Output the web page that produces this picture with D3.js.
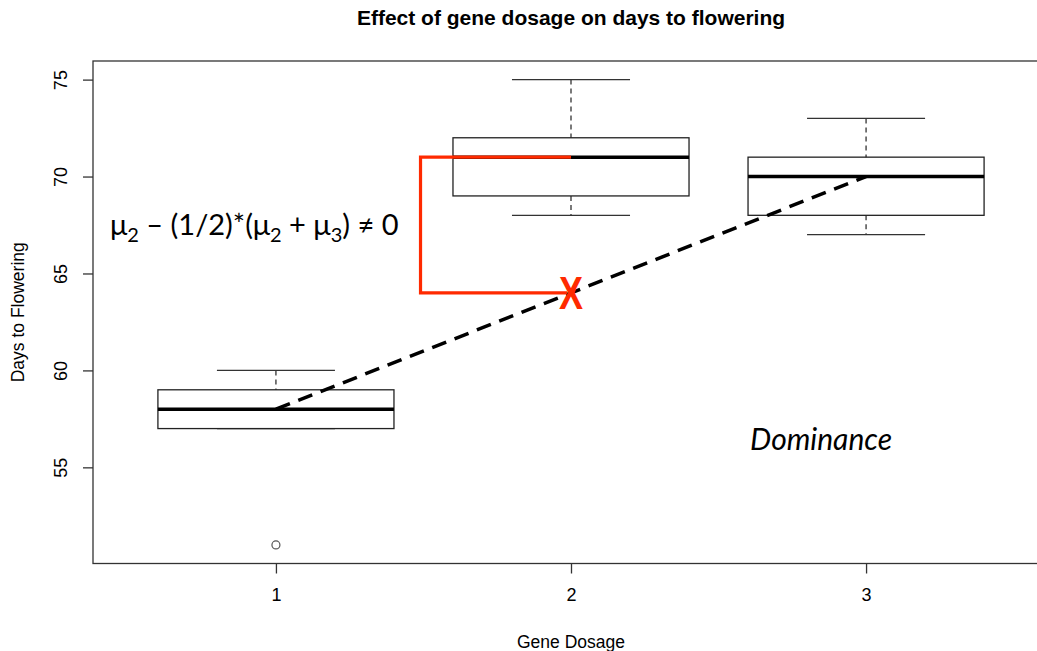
<!DOCTYPE html>
<html lang="en">
    <head>
        <meta charset="utf-8">
        <style>
            body { margin: 0; background: #fff; }
            text { font-family: "Liberation Sans", Arial, sans-serif; fill: #000; }
            .box { fill: none; stroke: #222; stroke-width: 1.3px; }
            .whisker { stroke: #222; stroke-width: 1.2px; stroke-dasharray: 5,4; }
            .cap { stroke: #333; stroke-width: 1.3px; }
            .median { stroke: #000; stroke-width: 3.5px; }
            .frame { fill: none; stroke: #333; stroke-width: 1.3px; }
            .note { font-family: Lato, "Open Sans", sans-serif; }
        </style>
        <script src="https://d3js.org/d3.v7.min.js"></script>
        <title>Effect of gene dosage on days to flowering</title>
    </head>
    <body>
        <div id="chart"></div>
        <script>
            // boxplot stats per gene dosage group
            var dosage = [1, 2, 3];
            var lowerWhisker = [57, 68, 67];
            var q1 = [57, 69, 68];
            var median = [58, 71, 70];
            var q3 = [59, 72, 71];
            var upperWhisker = [60, 75, 73];
            var outlierGroup = [1];
            var outlierValue = [51];
            var yTicks = [55, 60, 65, 70, 75];
            var xTicks = [1, 2, 3];
            var bracketX = 1.49;

            var width = 1037, height = 651;

            var svg = d3.select("#chart")
                .append("svg")
                    .attr("width", width)
                    .attr("height", height);

            var x = d3.scaleLinear()
                .domain([0.38, 3.62])
                .range([93, 1049]);

            var y = d3.scaleLinear()
                .domain([50.04, 75.96])
                .range([563.5, 61]);

            var boxW = 0.8, capW = 0.4;

            // plot frame (right edge falls outside the picture)
            svg.append("rect")
                .attr("class", "frame")
                .attr("x", x(0.38))
                .attr("y", y(75.96))
                .attr("width", x(3.62) - x(0.38))
                .attr("height", y(50.04) - y(75.96));

            // axes
            var yAxis = svg.append("g")
                .attr("transform", "translate(" + x(0.38) + ",0)")
                .call(d3.axisLeft(y).tickValues(yTicks).tickSize(10).tickFormat(d3.format("d")));
            yAxis.select(".domain").remove();
            yAxis.selectAll("line").attr("stroke", "#333").attr("stroke-width", 1.3);
            yAxis.selectAll("text")
                .attr("x", null).attr("dy", null)
                .attr("transform", "translate(-32,0) rotate(-90)")
                .attr("text-anchor", "middle")
                .attr("dominant-baseline", "central")
                .style("font-size", "18px")
                .style("font-family", "Liberation Sans, Arial, sans-serif");

            var xAxis = svg.append("g")
                .attr("transform", "translate(0," + y(50.04) + ")")
                .call(d3.axisBottom(x).tickValues(xTicks).tickSize(10).tickFormat(d3.format("d")));
            xAxis.select(".domain").remove();
            xAxis.selectAll("line").attr("stroke", "#333").attr("stroke-width", 1.3);
            xAxis.selectAll("text")
                .attr("y", 37).attr("dy", null)
                .style("font-size", "18px")
                .style("font-family", "Liberation Sans, Arial, sans-serif");

            // boxes
            var groups = svg.append("g").selectAll("g")
                .data(dosage)
                .enter().append("g");

            groups.append("line")
                .attr("class", "whisker")
                .attr("x1", function(d) { return x(d); })
                .attr("x2", function(d) { return x(d); })
                .attr("y1", function(d, i) { return y(upperWhisker[i]); })
                .attr("y2", function(d, i) { return y(q3[i]); });
            groups.append("line")
                .attr("class", "whisker")
                .attr("x1", function(d) { return x(d); })
                .attr("x2", function(d) { return x(d); })
                .attr("y1", function(d, i) { return y(q1[i]); })
                .attr("y2", function(d, i) { return y(lowerWhisker[i]); });
            groups.append("line")
                .attr("class", "cap")
                .attr("x1", function(d) { return x(d - capW / 2); })
                .attr("x2", function(d) { return x(d + capW / 2); })
                .attr("y1", function(d, i) { return y(upperWhisker[i]); })
                .attr("y2", function(d, i) { return y(upperWhisker[i]); });
            groups.append("line")
                .attr("class", "cap")
                .attr("x1", function(d) { return x(d - capW / 2); })
                .attr("x2", function(d) { return x(d + capW / 2); })
                .attr("y1", function(d, i) { return y(lowerWhisker[i]); })
                .attr("y2", function(d, i) { return y(lowerWhisker[i]); });
            groups.append("rect")
                .attr("class", "box")
                .attr("x", function(d) { return x(d - boxW / 2); })
                .attr("width", function(d) { return x(d + boxW / 2) - x(d - boxW / 2); })
                .attr("y", function(d, i) { return y(q3[i]); })
                .attr("height", function(d, i) { return y(q1[i]) - y(q3[i]); });
            groups.append("line")
                .attr("class", "median")
                .attr("x1", function(d) { return x(d - boxW / 2); })
                .attr("x2", function(d) { return x(d + boxW / 2); })
                .attr("y1", function(d, i) { return y(median[i]); })
                .attr("y2", function(d, i) { return y(median[i]); });

            svg.selectAll(".outlier")
                .data(outlierValue)
                .enter().append("circle")
                .attr("class", "outlier")
                .attr("cx", function(d, i) { return x(outlierGroup[i]); })
                .attr("cy", function(d) { return y(d); })
                .attr("r", 4)
                .attr("fill", "none")
                .attr("stroke", "#555")
                .attr("stroke-width", 1.2);

            // additive expectation: line from group 1 median to group 3 median
            var mid = (median[0] + median[2]) / 2;
            svg.append("line")
                .attr("x1", x(dosage[0])).attr("y1", y(median[0]))
                .attr("x2", x(dosage[2])).attr("y2", y(median[2]))
                .attr("stroke", "#000")
                .attr("stroke-width", 3.5)
                .attr("stroke-dasharray", "15,9");

            // red bracket showing the deviation
            var red = "#ff2a00";
            svg.append("path")
                .attr("d", d3.line()([
                    [x(dosage[1]), y(median[1])],
                    [x(bracketX), y(median[1])],
                    [x(bracketX), y(mid)],
                    [x(dosage[1]) - 4, y(mid)]
                ]))
                .attr("fill", "none")
                .attr("stroke", red)
                .attr("stroke-width", 3.2);

            svg.append("text")
                .attr("x", x(dosage[1]))
                .attr("y", y(mid) + 16)
                .attr("text-anchor", "middle")
                .attr("textLength", 24)
                .attr("lengthAdjust", "spacingAndGlyphs")
                .style("font-size", "46px")
                .style("font-weight", "bold")
                .style("fill", red)
                .text("X");

            // formula
            var f = svg.append("text")
                .attr("class", "note")
                .attr("x", 110)
                .attr("y", 235)
                .style("font-size", "29px");
            var parts = [["μ", 0], ["2", 1], [" – (1/2)*(μ", 0], ["2", 1], [" + μ", 0], ["3", 1], [") ≠ 0", 0]];
            var prevSub = 0;
            parts.forEach(function(p) {
                f.append("tspan")
                    .attr("dy", (p[1] - prevSub) * 7)
                    .style("font-size", p[1] ? "20px" : "29px")
                    .text(p[0]);
                prevSub = p[1];
            });

            svg.append("text")
                .attr("class", "note")
                .attr("x", 750)
                .attr("y", 450)
                .style("font-size", "30px")
                .style("font-style", "italic")
                .text("Dominance");

            // titles
            svg.append("text")
                .attr("x", x(2))
                .attr("y", 25)
                .attr("text-anchor", "middle")
                .style("font-size", "21px")
                .style("font-weight", "bold")
                .text("Effect of gene dosage on days to flowering");

            svg.append("text")
                .attr("x", x(2))
                .attr("y", 648)
                .attr("text-anchor", "middle")
                .style("font-size", "17.5px")
                .text("Gene Dosage");

            svg.append("text")
                .attr("transform", "translate(24," + y(63) + ") rotate(-90)")
                .attr("text-anchor", "middle")
                .style("font-size", "17.5px")
                .text("Days to Flowering");
        </script>
    </body>
</html>
